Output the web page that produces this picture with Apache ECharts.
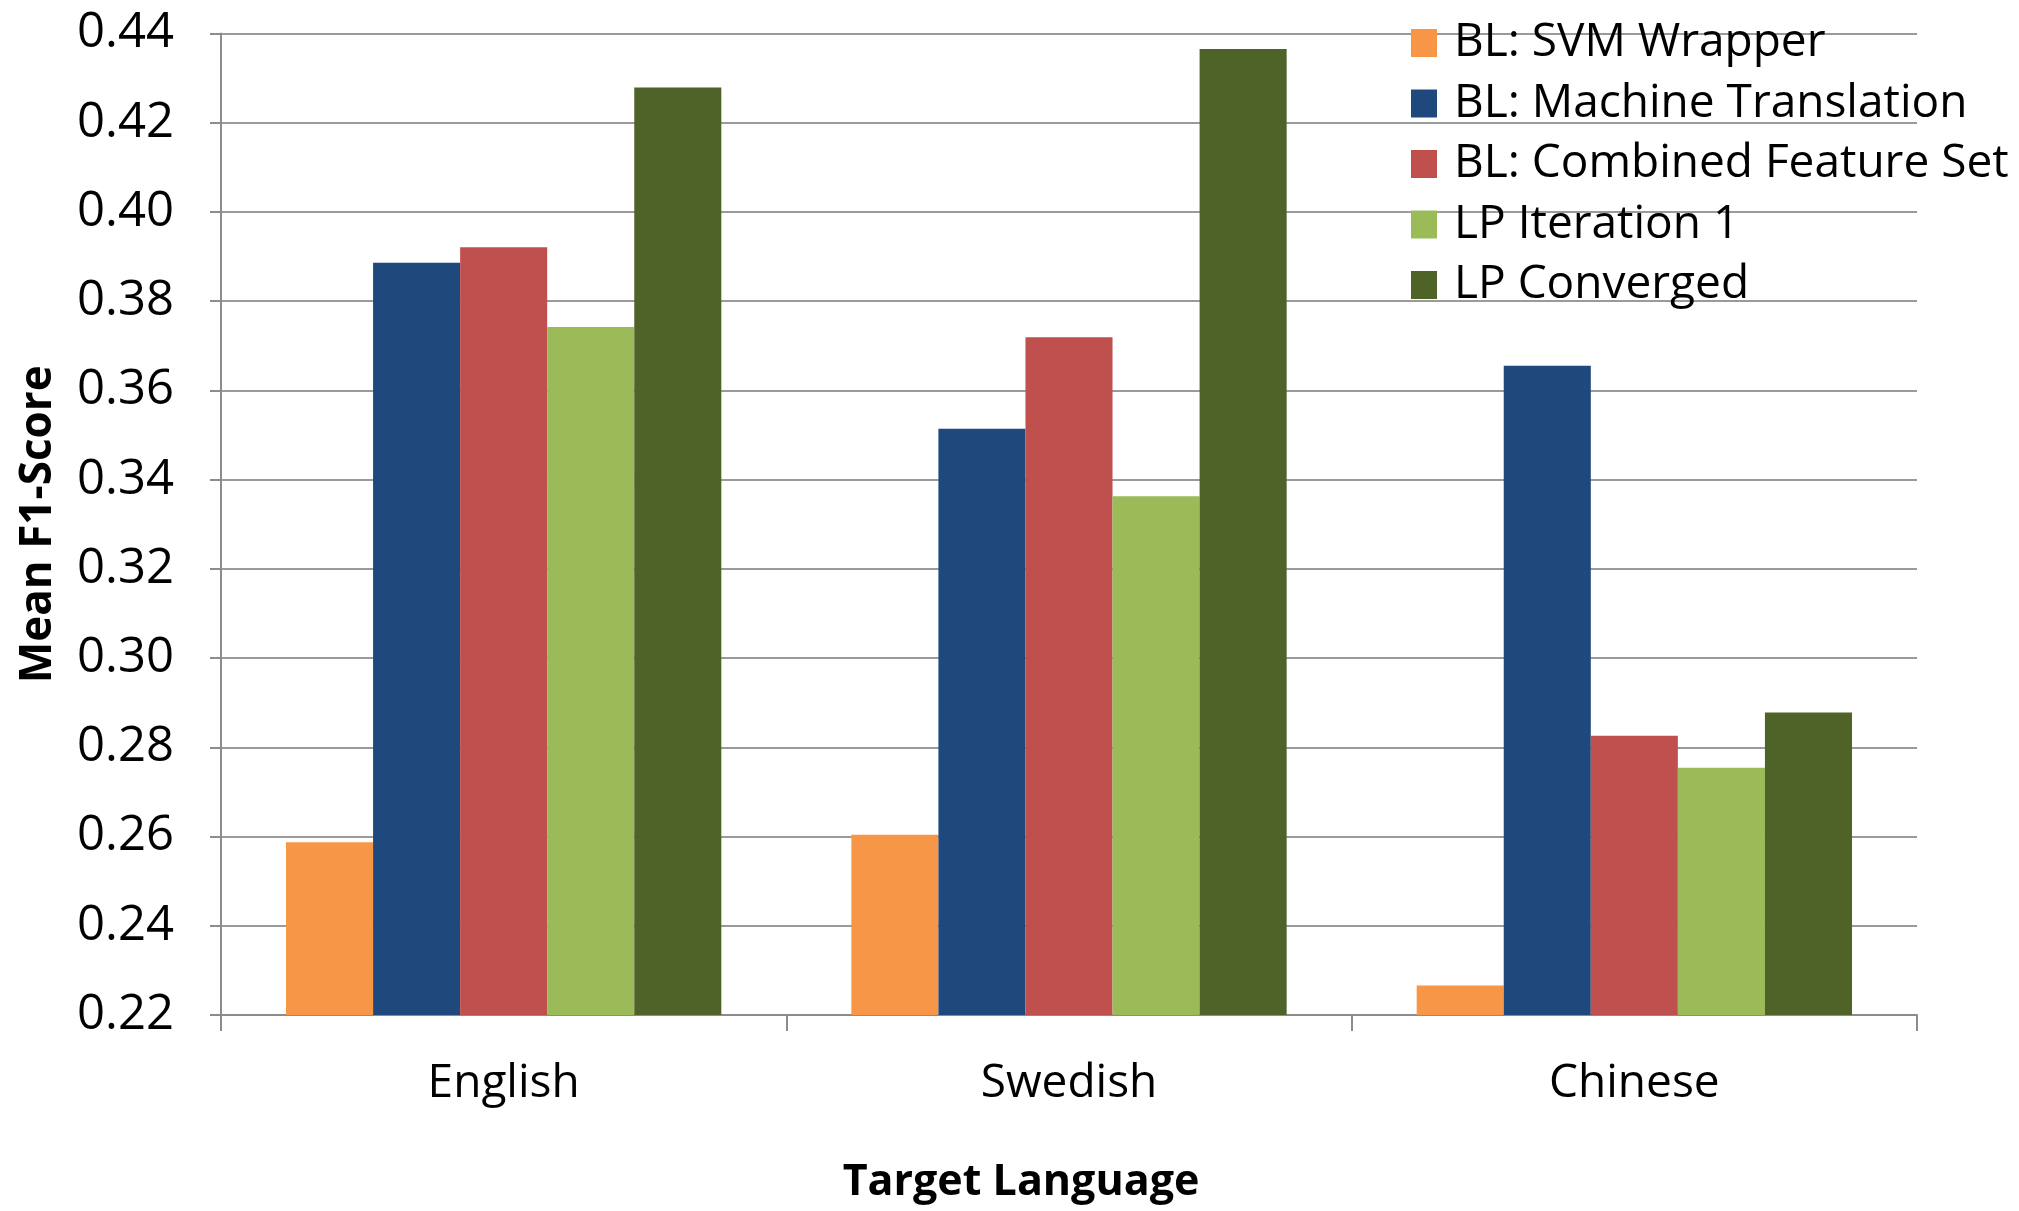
<!DOCTYPE html>
<html>
<head>
<meta charset="utf-8">
<script src="https://cdn.jsdelivr.net/npm/echarts@6/dist/echarts.min.js"></script>
<style>
  html, body { margin: 0; padding: 0; background: #ffffff; }
  #chart { width: 2019px; height: 1211px; }
</style>
</head>
<body>
<div id="chart"></div>
<script>
// Target languages on the x axis
const languages = ['English', 'Swedish', 'Chinese'];

// Mean F1-score per method, one value per language
const svmWrapper         = [0.2587, 0.2604, 0.2266];
const machineTranslation = [0.3886, 0.3514, 0.3655];
const combinedFeatures   = [0.3921, 0.3719, 0.2826];
const lpIteration1       = [0.3742, 0.3363, 0.2754];
const lpConverged        = [0.4279, 0.4365, 0.2878];

const seriesNames = [
  'BL: SVM Wrapper',
  'BL: Machine Translation',
  'BL: Combined Feature Set',
  'LP Iteration 1',
  'LP Converged'
];
const seriesValues = [svmWrapper, machineTranslation, combinedFeatures, lpIteration1, lpConverged];
const seriesColors = ['#F79646', '#1F497D', '#C0504D', '#9BBB59', '#4F6228'];

const FONT = '"Open Sans", "Liberation Sans", sans-serif';

const chart = echarts.init(document.getElementById('chart'), null, { renderer: 'canvas' });

chart.setOption({
  animation: false,
  backgroundColor: '#ffffff',
  textStyle: { fontFamily: FONT },
  grid: {
    left: 221, right: 102, top: 33.5, bottom: 196,
    containLabel: false,
    outerBoundsMode: 'none'
  },
  legend: {
    orient: 'vertical',
    left: 1406,
    top: 13,
    icon: 'rect',
    itemWidth: 26,
    itemHeight: 28,
    itemGap: 10.5,
    data: seriesNames,
    textStyle: {
      fontFamily: FONT,
      fontSize: 46,
      color: '#000000',
      lineHeight: 50,
      padding: [0, 0, 0, 12]
    }
  },
  xAxis: {
    type: 'category',
    data: languages,
    name: 'Target Language',
    nameLocation: 'middle',
    nameGap: 146,
    // title sits a little left of the plot centre
    nameTextStyle: {
      fontFamily: FONT, fontWeight: 'bold', fontSize: 43, color: '#000000',
      padding: [0, 96, 0, 0]
    },
    axisLine: { show: true, lineStyle: { color: '#8c8c8c', width: 2 } },
    axisTick: { show: true, length: 16, lineStyle: { color: '#8c8c8c', width: 2 } },
    axisLabel: { fontFamily: FONT, fontSize: 46, color: '#000000', margin: 46 },
    splitLine: { show: false }
  },
  yAxis: {
    type: 'value',
    min: 0.22,
    max: 0.44,
    interval: 0.02,
    name: 'Mean F1-Score',
    nameLocation: 'middle',
    nameGap: 161,
    nameTextStyle: { fontFamily: FONT, fontWeight: 'bold', fontSize: 44, color: '#000000' },
    axisLine: { show: true, lineStyle: { color: '#8c8c8c', width: 2 } },
    axisTick: { show: true, inside: false, length: 11, lineStyle: { color: '#8c8c8c', width: 2 } },
    axisLabel: {
      fontFamily: FONT,
      fontSize: 49,
      color: '#000000',
      margin: 47,
      formatter: v => v.toFixed(2)
    },
    splitLine: { show: true, lineStyle: { color: '#9a9a9a', width: 2 } }
  },
  series: seriesNames.map((name, i) => ({
    name: name,
    type: 'bar',
    data: seriesValues[i],
    barGap: '0%',
    barCategoryGap: '23%',
    itemStyle: { color: seriesColors[i] }
  }))
});
</script>
</body>
</html>
